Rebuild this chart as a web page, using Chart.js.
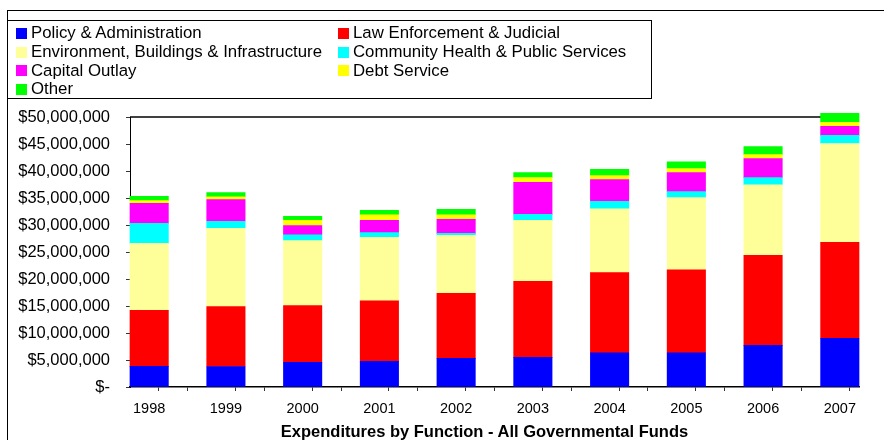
<!DOCTYPE html>
<html>
<head>
<meta charset="utf-8">
<script src="https://cdn.jsdelivr.net/npm/chart.js"></script>
<style>
  body { margin: 0; background: #fff; }
  #quadro { position: relative; width: 884px; height: 440px; overflow: hidden; font-family: "Liberation Sans", Arial, sans-serif; color: #000; }
  #moldura { position: absolute; left: 7px; top: 10px; width: 900px; height: 450px; border-top: 1px solid #000; border-left: 1px solid #000; }
  #legenda { position: absolute; left: 7px; top: 20px; width: 645px; height: 79px; box-sizing: border-box; border: 1px solid #000; padding: 3px 0 0 8px;
    display: grid; grid-template-columns: 322px auto; grid-auto-rows: 18.7px; font-size: 16.8px; }
  #legenda div { display: flex; align-items: center; white-space: nowrap; }
  #legenda span.cor { width: 11px; height: 11px; margin-right: 4px; display: inline-block; }
  #titulo { position: absolute; left: 0; width: 969px; top: 421px; text-align: center; font-weight: bold; font-size: 16.5px; line-height: 20px; white-space: nowrap; }
  #grafico { position: absolute; left: 0; top: 0; }
</style>
</head>
<body>
<div id="quadro">
  <div id="moldura"></div>
  <canvas id="grafico" width="884" height="440"></canvas>
  <div id="legenda"></div>
  <div id="titulo"></div>
</div>
<script>
const anos = [1998, 1999, 2000, 2001, 2002, 2003, 2004, 2005, 2006, 2007]

const policy_admin = [3810000, 3800000, 4550000, 4740000, 5300000, 5480000, 6350000, 6350000, 7700000, 9000000]
const law_judicial = [10380000, 11100000, 10550000, 11240000, 12030000, 14080000, 14820000, 15370000, 16670000, 17780000]
const env_infra = [12410000, 14500000, 12000000, 11720000, 10740000, 11290000, 11830000, 13340000, 13090000, 18320000]
const health_public = [3700000, 1300000, 1100000, 900000, 370000, 1110000, 1370000, 1110000, 1300000, 1500000]
const capital_outlay = [3700000, 4000000, 1700000, 2250000, 2600000, 5940000, 4030000, 3520000, 3520000, 1660000]
const debt_service = [500000, 500000, 950000, 1050000, 860000, 900000, 730000, 740000, 740000, 740000]
const other = [800000, 800000, 750000, 800000, 1000000, 900000, 1170000, 1290000, 1480000, 1670000]

const series = [
  { label: 'Policy & Administration', cor: '#0000FF', valores: policy_admin },
  { label: 'Law Enforcement & Judicial', cor: '#FF0000', valores: law_judicial },
  { label: 'Environment, Buildings & Infrastructure', cor: '#FFFF99', valores: env_infra },
  { label: 'Community Health & Public Services', cor: '#00FFFF', valores: health_public },
  { label: 'Capital Outlay', cor: '#FF00FF', valores: capital_outlay },
  { label: 'Debt Service', cor: '#FFFF00', valores: debt_service },
  { label: 'Other', cor: '#00FF00', valores: other }
]

const titulo = 'Expenditures by Function - All Governmental Funds'
const fonte = '"Liberation Sans", Arial, sans-serif'

document.getElementById('titulo').textContent = titulo

// legenda em duas colunas, igual ao Excel
const legenda = document.getElementById('legenda')
series.forEach(s => {
  const item = document.createElement('div')
  item.innerHTML = `<span class="cor" style="background:${s.cor}"></span>${s.label}`
  legenda.appendChild(item)
})

// marcas do eixo x nas bordas de cada barra
const marcas_x = []
anos.forEach(a => { marcas_x.push(a - 0.25, a, a + 0.25) })

const linha_topo = {
  id: 'linha_topo',
  beforeDatasetsDraw(chart) {
    const { ctx, chartArea } = chart
    ctx.save()
    ctx.strokeStyle = '#000'
    ctx.lineWidth = 1.5
    ctx.beginPath()
    ctx.moveTo(chartArea.left, chartArea.top)
    ctx.lineTo(chartArea.right, chartArea.top)
    ctx.stroke()
    ctx.restore()
  }
}

const myChart = new Chart(document.getElementById('grafico'), {
  type: 'bar',
  data: {
    labels: anos,
    datasets: series.map(s => ({
      label: s.label,
      data: s.valores,
      backgroundColor: s.cor,
      borderWidth: 0
    }))
  },
  options: {
    responsive: false,
    animation: false,
    barThickness: 38.4,
    datasets: { bar: { clip: false } },
    layout: { padding: { top: 117, left: 0, right: 25, bottom: 0 } },
    scales: {
      x: {
        type: 'linear',
        stacked: true,
        min: 1997.75,
        max: 2007.25,
        offset: false,
        afterBuildTicks: scale => { scale.ticks = marcas_x.map(v => ({ value: v })) },
        afterFit: scale => { scale.height = 53 },
        grid: {
          drawOnChartArea: false,
          tickLength: 4,
          tickColor: c => (c.tick && Number.isInteger(c.tick.value)) ? 'rgba(0,0,0,0)' : '#333'
        },
        border: { color: '#000', width: 1.5 },
        ticks: {
          autoSkip: false,
          maxRotation: 0,
          padding: 9,
          color: '#000',
          font: { family: fonte, size: 14.5 },
          callback: v => Number.isInteger(v) ? String(v) : ''
        }
      },
      y: {
        stacked: true,
        min: 0,
        max: 50000000,
        afterFit: scale => { scale.width = 130 },
        grid: { drawOnChartArea: false, tickLength: 4, tickColor: '#333' },
        border: { color: '#000', width: 1 },
        ticks: {
          stepSize: 5000000,
          padding: 16,
          color: '#000',
          font: { family: fonte, size: 16.5 },
          callback: v => v === 0 ? '$-' : '$' + v.toLocaleString('en-US')
        }
      }
    },
    plugins: {
      legend: { display: false },
      tooltip: { enabled: false },
      title: { display: false }
    }
  },
  plugins: [linha_topo]
})
</script>
</body>
</html>
